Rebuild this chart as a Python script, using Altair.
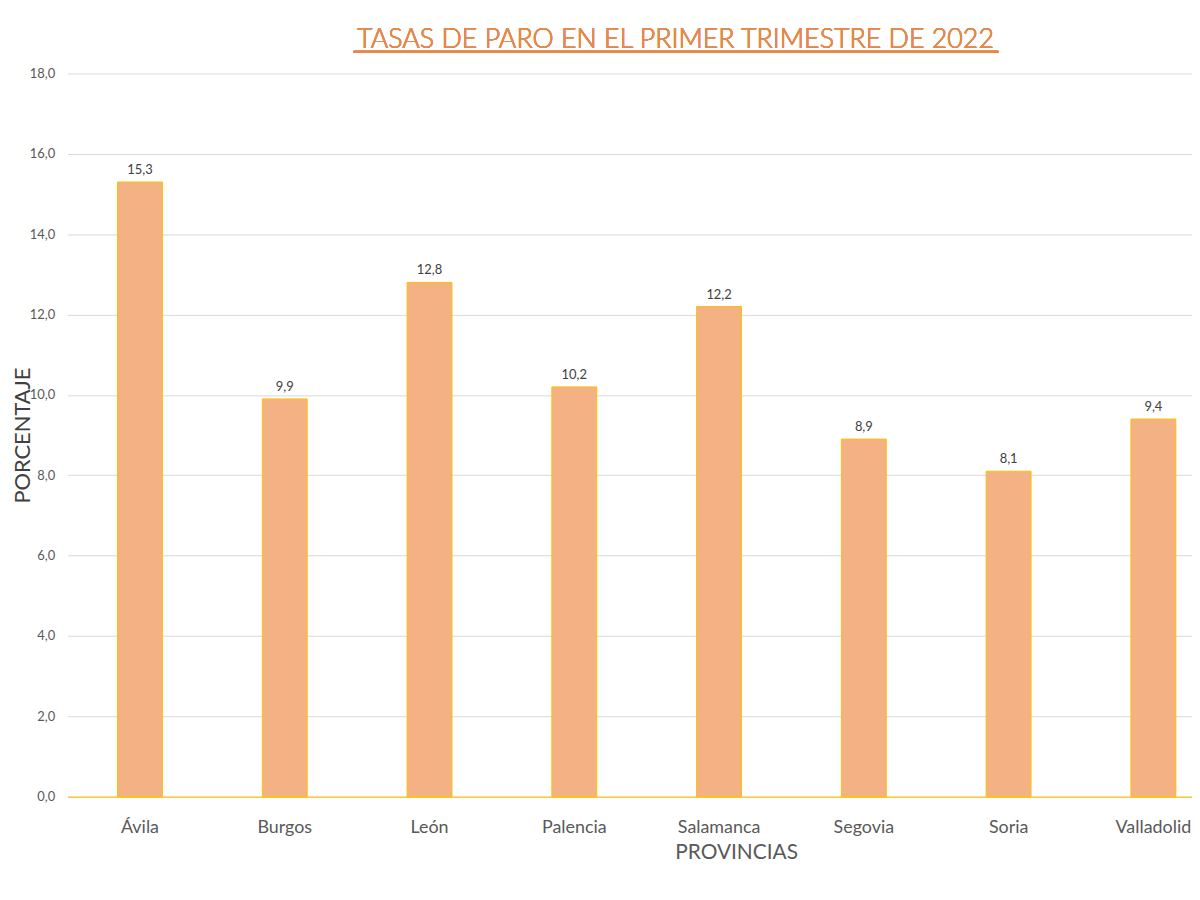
import altair as alt
import pandas as pd

# datos: tasa de paro por provincia (1T 2022)
provincias = ["Ávila", "Burgos", "León", "Palencia", "Salamanca", "Segovia", "Soria", "Valladolid"]
tasas = [15.3, 9.9, 12.8, 10.2, 12.2, 8.9, 8.1, 9.4]

df = pd.DataFrame({"provincia": provincias, "tasa": tasas})

fuente = "Lato"
gris = "#595959"

base = alt.Chart(df).transform_calculate(
    etiqueta="replace(format(datum.tasa, '.1f'), '.', ',')"
)

x = alt.X(
    "provincia:N",
    sort=provincias,
    scale=alt.Scale(range=[0, 1166], paddingInner=0.69, paddingOuter=0.345),
    axis=alt.Axis(
        title="PROVINCIAS", labelAngle=0, ticks=False, domain=True,
        domainColor="#F5C84C", domainWidth=1.5,
        labelFont=fuente, labelFontSize=18, labelColor=gris, labelPadding=22,
        titleFont=fuente, titleFontSize=21, titleFontWeight="normal", titleColor=gris,
        titlePadding=5, titleX=673,
    ),
)

barras = base.mark_bar(color="#F4B183", stroke="#FFC000", strokeWidth=1).encode(
    x=x,
    y=alt.Y(
        "tasa:Q",
        scale=alt.Scale(domain=[0, 18]),
        axis=alt.Axis(
            title="PORCENTAJE", values=[0, 2, 4, 6, 8, 10, 12, 14, 16, 18],
            labelExpr="replace(format(datum.value, '.1f'), '.', ',')",
            ticks=False, domain=False, gridColor="#D9D9D9", gridWidth=1,
            labelFont=fuente, labelFontSize=13, labelColor=gris, labelPadding=13,
            titleFont=fuente, titleFontSize=22, titleFontWeight="normal", titleColor="#404040",
            titleX=-33,
        ),
    ),
)

textos = base.mark_text(dy=-12, font=fuente, fontSize=13, color="#404040").encode(
    x=alt.X("provincia:N", sort=provincias),
    y="tasa:Q",
    text="etiqueta:N",
)

titulo = alt.Chart(df).mark_text(
    text="TASAS DE PARO EN EL PRIMER TRIMESTRE DE 2022",
    font=fuente, fontSize=27, fontWeight=300, color="#E4894A", align="center", baseline="alphabetic",
).encode(x=alt.value(612), y=alt.value(-26))

subrayado = alt.Chart(df).mark_rule(color="#E4894A", strokeWidth=2).encode(
    x=alt.value(288), x2=alt.value(937), y=alt.value(-22)
)

chart = alt.layer(barras, textos, titulo, subrayado).properties(
    width=1132,
    height=728,
    autosize=alt.AutoSizeParams(type="none"),
    padding={"left": 60, "top": 63, "right": 0, "bottom": 90},
).configure_view(stroke=None)

chart.save("out.html", embed_options={"renderer": "svg", "actions": False})
